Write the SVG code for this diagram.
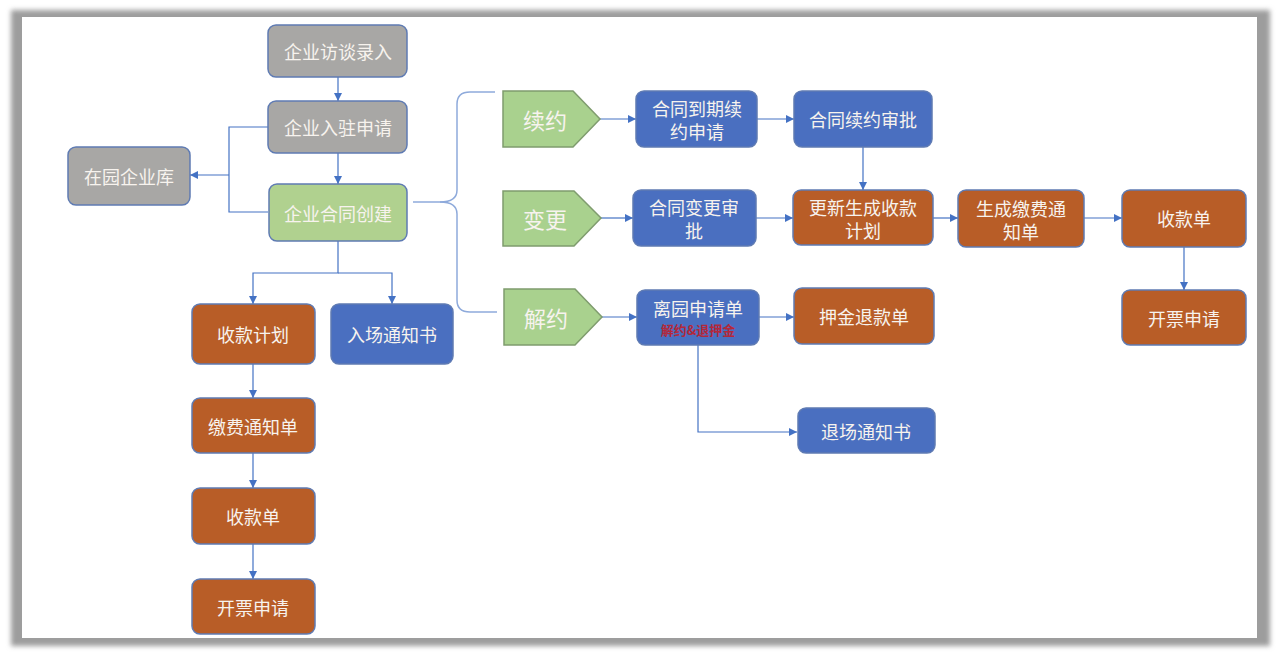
<svg xmlns="http://www.w3.org/2000/svg" width="1280" height="655" viewBox="0 0 1280 655">
<defs>
<filter id="blur" x="-5%" y="-5%" width="110%" height="110%"><feGaussianBlur stdDeviation="2.5"/></filter>
<marker id="ah" viewBox="0 0 10 10" refX="10" refY="5" markerWidth="8" markerHeight="8" markerUnits="userSpaceOnUse" orient="auto"><path d="M0,0 L10,5 L0,10 z" fill="#4472c4"/></marker>
</defs>
<style>
.box{stroke:#5f7bb3;stroke-width:1.5}
.gray{fill:#a8a7a5}
.green{fill:#b0d18f}
.orange{fill:#b85d27}
.blue{fill:#4a6fc0}
.pent{fill:#a9d18e;stroke:#7f9c6e;stroke-width:1.5}
text{font-family:"Noto Sans CJK SC","Noto Sans",sans-serif;font-size:18px;fill:#f7f3ee;text-anchor:middle;dominant-baseline:central}
.big{font-size:22px}
.sub{font-size:13px;font-weight:bold;fill:#b3283a}
.conn{fill:none;stroke:#4472c4;stroke-width:1.2}
.brace{fill:none;stroke:#8eaadb;stroke-width:1.5}
</style>
<rect x="0" y="0" width="1280" height="655" fill="#ffffff"/>
<rect x="11" y="10" width="1259" height="636" fill="#9d9d9d" filter="url(#blur)"/>
<rect x="22" y="17" width="1235" height="621" fill="#ffffff"/>

<g id="connectors">
<path class="conn" d="M338,77 V101" marker-end="url(#ah)"/>
<path class="conn" d="M338,153 V184" marker-end="url(#ah)"/>
<path class="conn" d="M268,127 H229 V212 H268"/>
<path class="conn" d="M229,175 H190" marker-end="url(#ah)"/>
<path class="conn" d="M338,241 V273 H253 V304" marker-end="url(#ah)"/>
<path class="conn" d="M338,273 H392 V304" marker-end="url(#ah)"/>
<path class="conn" d="M253,364 V398" marker-end="url(#ah)"/>
<path class="conn" d="M253,453 V488" marker-end="url(#ah)"/>
<path class="conn" d="M253,544 V579" marker-end="url(#ah)"/>
<path class="brace" d="M413,202 H440 Q457,202 457,190 V104 Q457,92 470,92 H495"/>
<path class="brace" d="M440,202 Q457,202 457,214 V300 Q457,312 470,312 H497"/>
<path class="conn" d="M600,119 H636" marker-end="url(#ah)"/>
<path class="conn" d="M757,119 H794" marker-end="url(#ah)"/>
<path class="conn" d="M863,147 V190" marker-end="url(#ah)"/>
<path class="conn" d="M601,218 H633" marker-end="url(#ah)"/>
<path class="conn" d="M756,218 H793" marker-end="url(#ah)"/>
<path class="conn" d="M933,218 H958" marker-end="url(#ah)"/>
<path class="conn" d="M1084,218 H1122" marker-end="url(#ah)"/>
<path class="conn" d="M1184,247 V290" marker-end="url(#ah)"/>
<path class="conn" d="M602,317 H637" marker-end="url(#ah)"/>
<path class="conn" d="M759,317 H794" marker-end="url(#ah)"/>
<path class="conn" d="M698,345 V432 H797" marker-end="url(#ah)"/>
</g>

<g id="n-interview"><rect class="box gray" x="268" y="25" width="139" height="52" rx="8"/><text x="338" y="51">企业访谈录入</text></g>
<g id="n-apply"><rect class="box gray" x="268" y="101" width="139" height="52" rx="8"/><text x="338" y="127">企业入驻申请</text></g>
<g id="n-library"><rect class="box gray" x="68" y="147" width="122" height="58" rx="8"/><text x="129" y="176">在园企业库</text></g>
<g id="n-contract"><rect class="box green" x="269" y="184" width="138" height="57" rx="8"/><text x="338" y="213">企业合同创建</text></g>

<g id="n-plan"><rect class="box orange" x="192" y="304" width="123" height="60" rx="8"/><text x="253" y="334">收款计划</text></g>
<g id="n-entry"><rect class="box blue" x="331" y="304" width="122" height="60" rx="8"/><text x="392" y="334">入场通知书</text></g>
<g id="n-notice"><rect class="box orange" x="192" y="398" width="123" height="55" rx="8"/><text x="253" y="426">缴费通知单</text></g>
<g id="n-receipt"><rect class="box orange" x="192" y="488" width="123" height="56" rx="8"/><text x="253" y="516">收款单</text></g>
<g id="n-invoice"><rect class="box orange" x="192" y="579" width="123" height="55" rx="8"/><text x="253" y="607">开票申请</text></g>

<g id="n-renew"><polygon class="pent" points="503,91 573,91 600,119 573,147 503,147"/><text class="big" x="545" y="119">续约</text></g>
<g id="n-change"><polygon class="pent" points="503,191 574,191 601,218 574,246 503,246"/><text class="big" x="545" y="218">变更</text></g>
<g id="n-terminate"><polygon class="pent" points="504,289 575,289 602,317 575,345 504,345"/><text class="big" x="546" y="317">解约</text></g>

<g id="n-renew-apply"><rect class="box blue" x="636" y="91" width="121" height="56" rx="8"/><text x="697" y="108"><tspan x="697" y="108">合同到期续</tspan><tspan x="697" y="131">约申请</tspan></text></g>
<g id="n-renew-approve"><rect class="box blue" x="794" y="91" width="138" height="56" rx="8"/><text x="863" y="119">合同续约审批</text></g>
<g id="n-change-approve"><rect class="box blue" x="633" y="190" width="123" height="56" rx="8"/><text x="694" y="207"><tspan x="694" y="207">合同变更审</tspan><tspan x="694" y="230">批</tspan></text></g>
<g id="n-update-plan"><rect class="box orange" x="793" y="190" width="140" height="55" rx="8"/><text x="863" y="207"><tspan x="863" y="207">更新生成收款</tspan><tspan x="863" y="230">计划</tspan></text></g>
<g id="n-gen-notice"><rect class="box orange" x="958" y="190" width="126" height="57" rx="8"/><text x="1021" y="208"><tspan x="1021" y="208">生成缴费通</tspan><tspan x="1021" y="231">知单</tspan></text></g>
<g id="n-receipt2"><rect class="box orange" x="1122" y="190" width="124" height="57" rx="8"/><text x="1184" y="218">收款单</text></g>
<g id="n-invoice2"><rect class="box orange" x="1122" y="290" width="124" height="55" rx="8"/><text x="1184" y="318">开票申请</text></g>
<g id="n-leave"><rect class="box blue" x="637" y="290" width="122" height="55" rx="8"/><text x="698" y="308"><tspan x="698" y="308">离园申请单</tspan><tspan class="sub" x="698" y="329">解约&amp;退押金</tspan></text></g>
<g id="n-deposit"><rect class="box orange" x="794" y="288" width="140" height="56" rx="8"/><text x="864" y="316">押金退款单</text></g>
<g id="n-exit"><rect class="box blue" x="798" y="408" width="137" height="45" rx="8"/><text x="866" y="431">退场通知书</text></g>
</svg>
